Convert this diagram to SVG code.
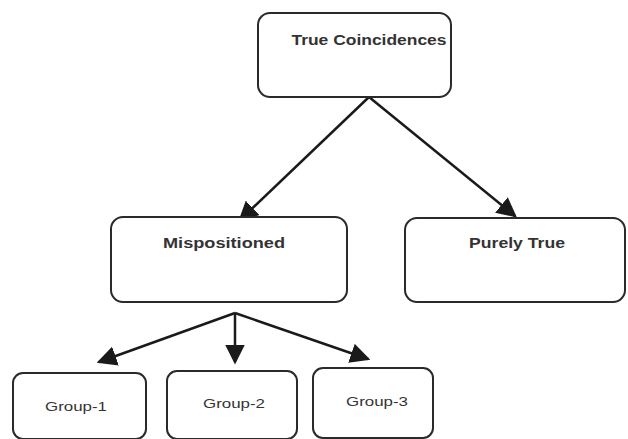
<svg xmlns="http://www.w3.org/2000/svg" width="628" height="439" viewBox="0 0 628 439">
<style>
.box{fill:#fff;stroke:#2a2a2a;stroke-width:2}
.lbl{font-family:"Liberation Sans",Arial,sans-serif;font-weight:bold;fill:#333;text-anchor:middle}
.big{font-size:14px}
.small{font-size:12px;font-weight:normal}
.edge{stroke:#1a1a1a;stroke-width:2.5;fill:none;marker-end:url(#ah)}
</style>
<defs>
<marker id="ah" markerWidth="8" markerHeight="8" refX="7" refY="4" orient="auto" markerUnits="strokeWidth" viewBox="0 0 8 8">
<path d="M0,0 L8,4 L0,8 z" fill="#1a1a1a"/>
</marker>
</defs>
<rect width="628" height="439" fill="#fff"/>
<g id="connectors">
<line class="edge" x1="369" y1="97" x2="240" y2="220"/>
<line class="edge" x1="369" y1="97" x2="515" y2="216"/>
<line class="edge" x1="235" y1="313" x2="99" y2="362"/>
<line class="edge" x1="235" y1="313" x2="235" y2="362"/>
<line class="edge" x1="235" y1="313" x2="368" y2="359"/>
</g>
<g id="n-true">
<rect class="box" x="258" y="13" width="193" height="84" rx="12"/>
<text class="lbl big" x="369" y="45" textLength="155" lengthAdjust="spacingAndGlyphs">True Coincidences</text>
</g>
<g id="n-mis">
<rect class="box" x="111" y="217" width="236" height="85" rx="12"/>
<text class="lbl big" x="224" y="248" textLength="122" lengthAdjust="spacingAndGlyphs">Mispositioned</text>
</g>
<g id="n-pure">
<rect class="box" x="405" y="218" width="220" height="84" rx="12"/>
<text class="lbl big" x="517" y="248" textLength="96" lengthAdjust="spacingAndGlyphs">Purely True</text>
</g>
<g id="n-g1">
<rect class="box" x="13" y="373" width="133" height="66" rx="10"/>
<text class="lbl small" x="76" y="411" textLength="62" lengthAdjust="spacingAndGlyphs">Group-1</text>
</g>
<g id="n-g2">
<rect class="box" x="167" y="371" width="130" height="68" rx="10"/>
<text class="lbl small" x="234" y="408" textLength="62" lengthAdjust="spacingAndGlyphs">Group-2</text>
</g>
<g id="n-g3">
<rect class="box" x="313" y="368" width="120" height="70" rx="10"/>
<text class="lbl small" x="377" y="406" textLength="62" lengthAdjust="spacingAndGlyphs">Group-3</text>
</g>
</svg>
